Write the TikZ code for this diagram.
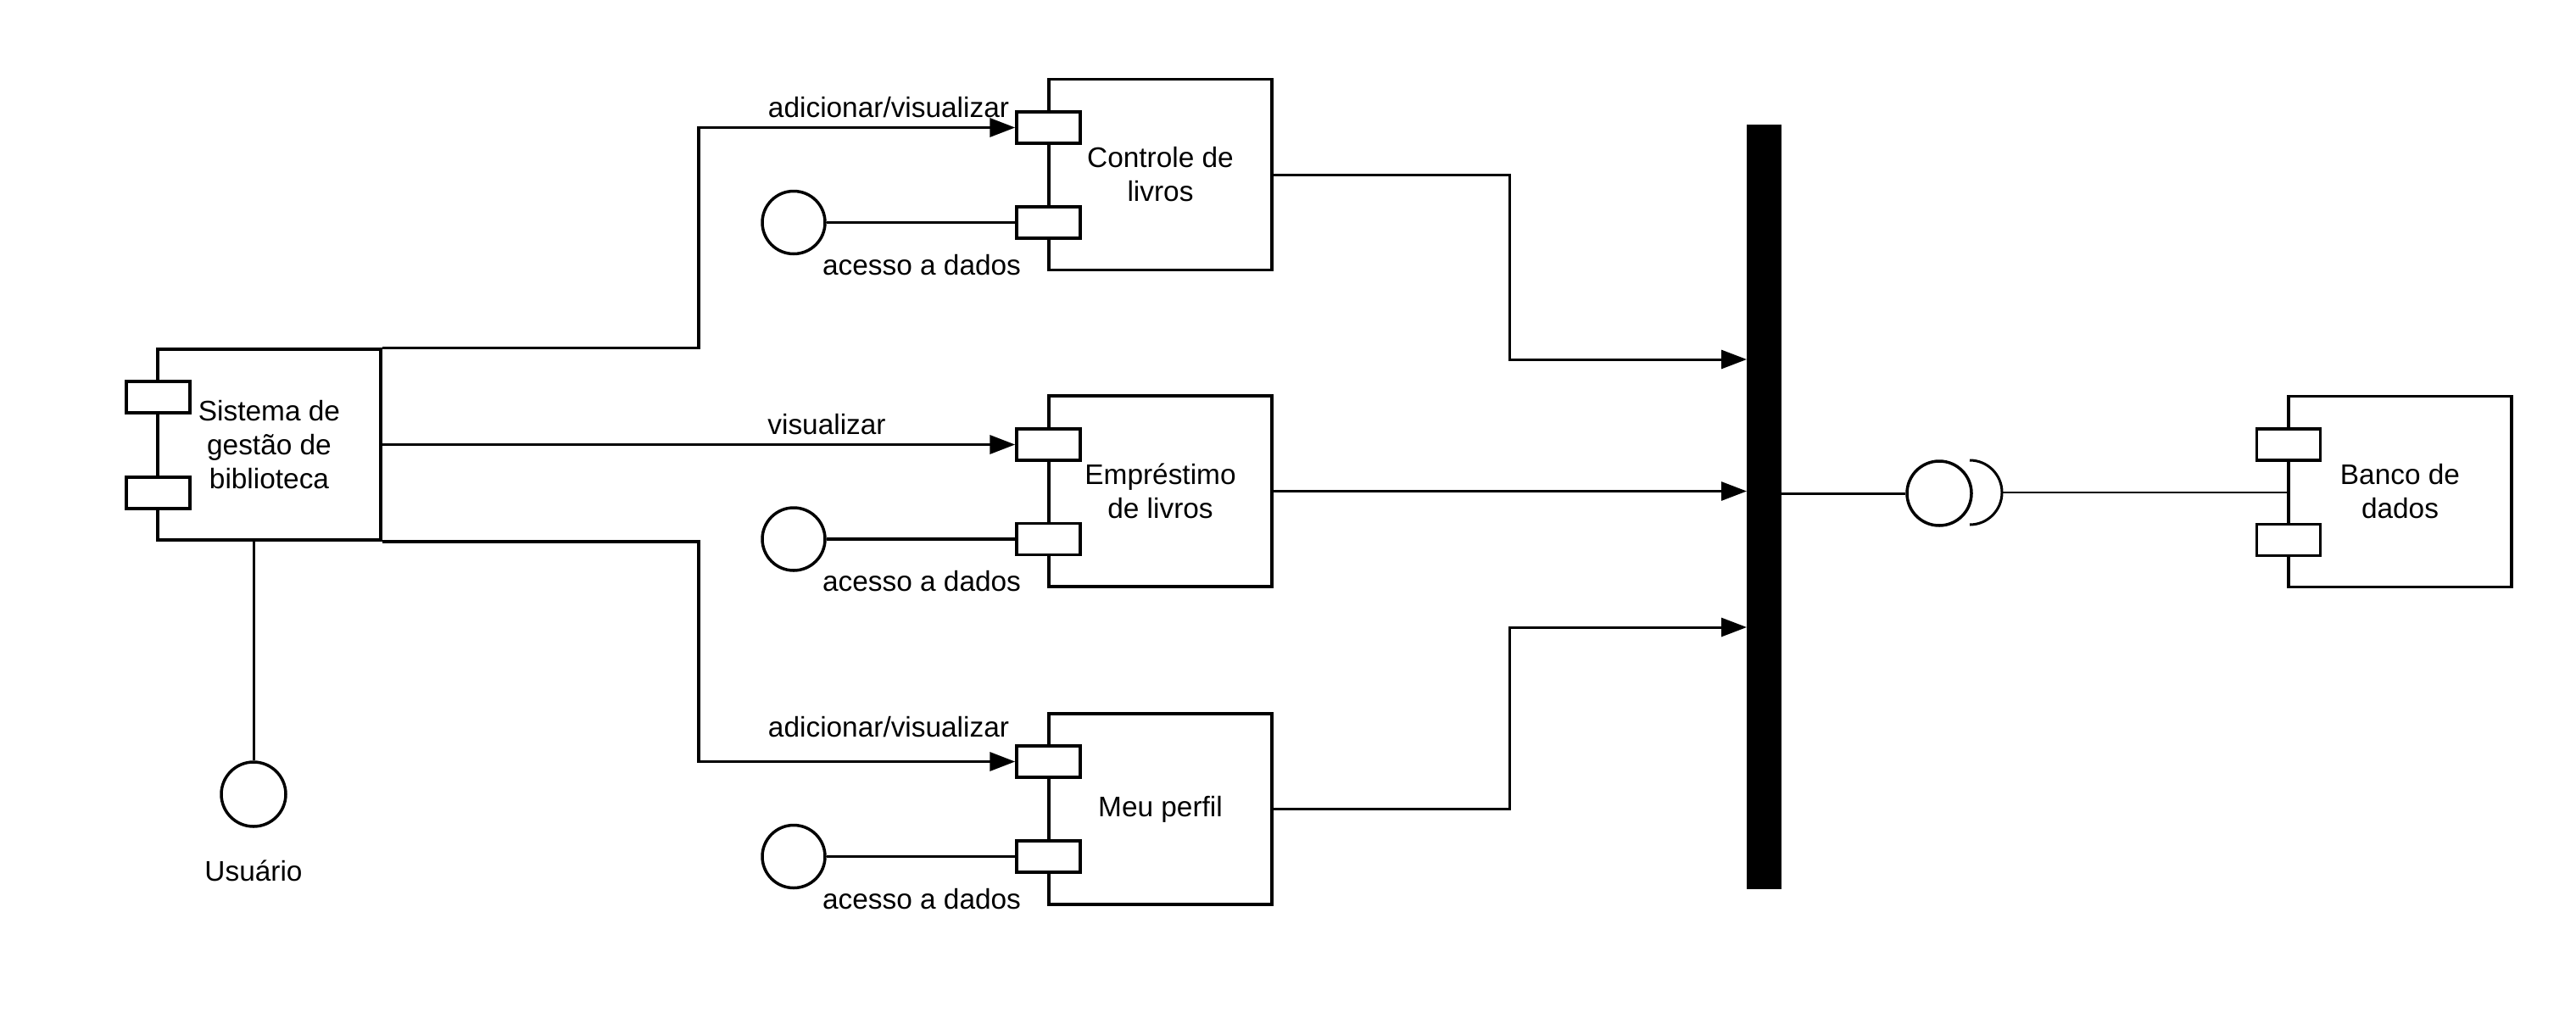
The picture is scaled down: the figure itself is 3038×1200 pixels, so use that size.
\documentclass[tikz,border=0pt]{standalone}
\usepackage{fontspec}
\setmainfont{Liberation Sans}
\usetikzlibrary{arrows.meta,calc}
\begin{document}
\begin{tikzpicture}[x=1pt,y=-1pt,line width=3.5pt,
  comp/.style={draw,fill=white,minimum width=263pt,minimum height=225pt,align=center,inner sep=0pt,font=\fontsize{33.4}{40}\selectfont},
  port/.style={draw,fill=white,minimum width=75pt,minimum height=37pt,inner sep=0pt},
  iface/.style={draw,fill=white,circle,minimum size=76pt,inner sep=0pt},
  lbl/.style={font=\fontsize{33.4}{40}\selectfont,inner sep=0pt},
  arr/.style={-{Triangle[length=30pt,width=22pt]}},
  thin line/.style={line width=2.5pt}
]
\useasboundingbox (0,0) rectangle (3038,1200);

% components
\node[comp] (sis) at (317.5,524.5) {Sistema de\\gestão de\\biblioteca};
\node[port] (sp1) at (186.5,468.5) {};
\node[port] (sp2) at (186.5,581.5) {};

\node[comp] (ctl) at (1368.5,206) {Controle de\\livros};
\node[port] (cp1) at (1236.5,150.5) {};
\node[port] (cp2) at (1236.5,262.5) {};

\node[comp] (emp) at (1368.5,579.5) {Empréstimo\\de livros};
\node[port] (ep1) at (1236.5,524.5) {};
\node[port] (ep2) at (1236.5,636) {};

\node[comp] (mp) at (1368.5,954.5) {Meu perfil};
\node[port] (mp1) at (1236.5,898.5) {};
\node[port] (mp2) at (1236.5,1010.5) {};

\node[comp] (bd) at (2830.5,580) {Banco de\\dados};
\node[port] (bp1) at (2699,524.5) {};
\node[port] (bp2) at (2699,637) {};

% bar
\node[draw,fill=black,line width=0pt,minimum width=40pt,minimum height=901pt,inner sep=0pt] (bar) at (2080,597.5) {};

% interfaces
\node[iface] (usr) at (299,937) {};
\node[lbl] (usrl) at (299,1027) {Usuário};
\node[iface,minimum size=74pt] (dc1) at (936,262.5) {};
\node[iface,minimum size=74pt] (dc2) at (936,636) {};
\node[iface,minimum size=74pt] (dc3) at (936,1010.5) {};
\node[lbl] (al1) at (1087,313) {acesso a dados};
\node[lbl] (al2) at (1087,686) {acesso a dados};
\node[lbl] (al3) at (1087,1061) {acesso a dados};

\node[iface] (ball) at (2287,582) {};
\coordinate (socktop) at (2323,543);
\coordinate (sockr) at (2361,581);
\draw[line width=3pt] (socktop) arc[start angle=-90,end angle=90,radius=38];

% labels
\node[lbl] (l1) at (1048,127) {adicionar/visualizar};
\node[lbl] (l2) at (975,501) {visualizar};
\node[lbl] (l3) at (1048,858) {adicionar/visualizar};

% connectors from Sistema
\coordinate (m1) at ($(sis.east)!.5!(cp1.west)$);
\draw[arr] (sis.north east) -- (sis.north east -| m1) |- (cp1.west);
\draw[arr] (sis.east) -- (sis.east -| ep1.west);
\draw[arr] (sis.south east) -- (sis.south east -| m1) |- (mp1.west);
\draw[line width=3pt] (usr.north) -- (usr.north |- sis.south);

% data circles
\draw (dc1.east) -- (dc1.east -| cp2.west);
\draw (dc2.east) -- (dc2.east -| ep2.west);
\draw (dc3.east) -- (dc3.east -| mp2.west);

% to bar
\coordinate (b1) at ($(bar.north west)+(0,277)$);
\coordinate (b3) at ($(bar.north west)+(0,593)$);
\coordinate (m2) at ($(ctl.east)!.5!(b1)$);
\draw[arr,line width=3pt] (ctl.east) -- (ctl.east -| m2) |- (b1);
\draw[arr,line width=3pt] (emp.east) -- (emp.east -| bar.west);
\draw[arr,line width=3pt] (mp.east) -- (mp.east -| m2) |- (b3);

% bar to database
\draw[line width=3pt] (bar.east |- ball.west) -- (ball.west);
\draw[thin line] (sockr) -- (sockr -| bd.west);
\end{tikzpicture}
\end{document}
